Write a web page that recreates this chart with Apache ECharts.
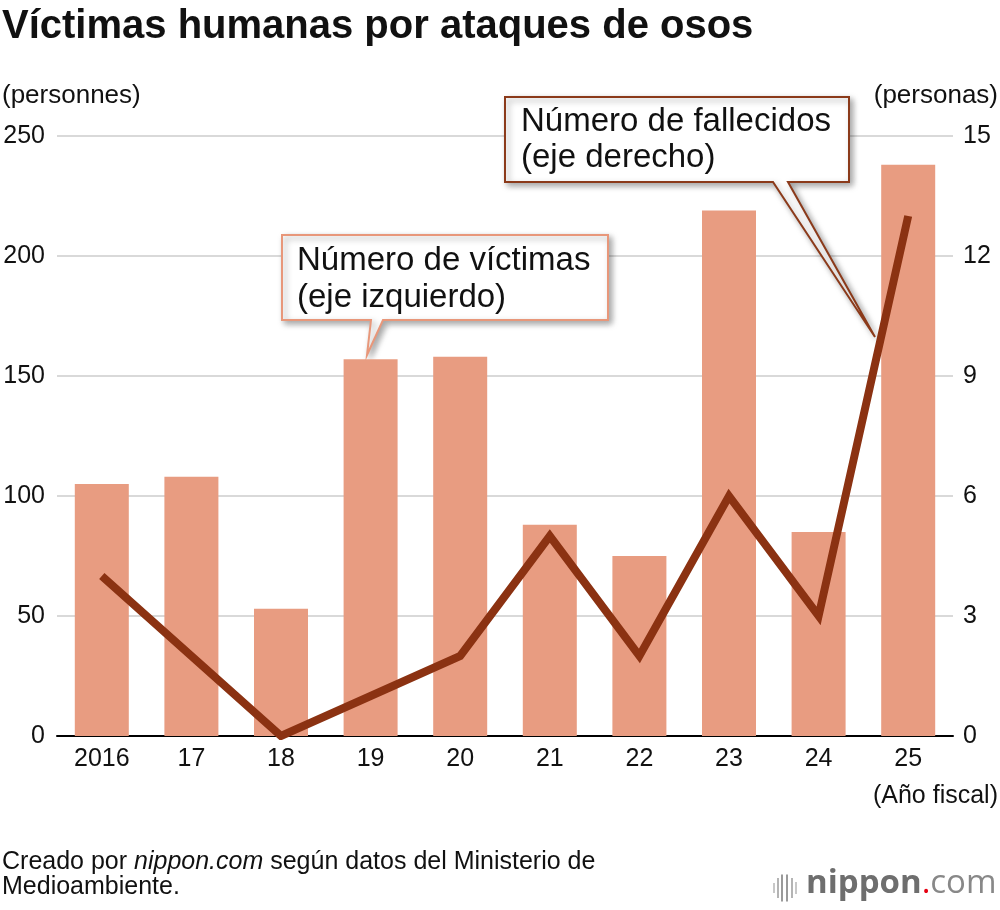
<!DOCTYPE html>
<html>
<head>
<meta charset="utf-8">
<script src="https://cdn.jsdelivr.net/npm/echarts@6/dist/echarts.min.js"></script>
<style>
html, body { margin: 0; padding: 0; background: #fff; }
#chart-container { width: 1000px; height: 910px; }
</style>
</head>
<body>
<div id="chart-container"></div>
<script>
const years = ['2016', '17', '18', '19', '20', '21', '22', '23', '24', '25']
const victims = [105, 108, 53, 157, 158, 88, 75, 219, 85, 238]
const deaths = [4, 2, 0, 1, 2, 5, 2, 6, 3, 13]

const font = '"Liberation Sans", Arial, Helvetica, sans-serif'
const barColor = '#E89C81'
const lineColor = '#8B3212'

const myChart = echarts.init(document.getElementById('chart-container'))

// plain text helper for the graphic layer
const txt = (text, x, y, size, opts = {}) => ({
    type: 'text', x: x, y: y, z: opts.z || 1,
    style: {
        text: text,
        font: (opts.bold ? 'bold ' : '') + size + 'px ' + font,
        fill: '#111',
        align: opts.align || 'left',
        verticalAlign: 'middle'
    }
})

// little grey bars of the logo
const logoBars = [
    [773, 10, '#c8c8c8'], [777, 20, '#b4b4b4'], [781, 27, '#9a9a9a'],
    [786, 27, '#9a9a9a'], [791, 20, '#b4b4b4'], [795, 12, '#c8c8c8']
].map(([x, h, c]) => ({
    type: 'rect', shape: { x: x, y: 888 - h / 2, width: 2, height: h },
    style: { fill: c }
}))

const option = {
    animation: false,
    textStyle: { fontFamily: font },
    grid: { left: 57, right: 47, top: 136, bottom: 174 },
    xAxis: {
        type: 'category',
        data: years,
        axisLine: { lineStyle: { color: '#000', width: 2 } },
        axisTick: { show: false },
        axisLabel: { color: '#111', fontSize: 25, margin: 11 }
    },
    yAxis: [
        {
            type: 'value', min: 0, max: 250, interval: 50,
            axisLine: { show: false }, axisTick: { show: false },
            axisLabel: { color: '#111', fontSize: 25, margin: 12 },
            splitLine: { lineStyle: { color: '#cccccc', width: 1.5 } }
        },
        {
            type: 'value', min: 0, max: 15, interval: 3,
            axisLine: { show: false }, axisTick: { show: false },
            axisLabel: { color: '#111', fontSize: 25, margin: 10 },
            splitLine: { show: false }
        }
    ],
    series: [
        {
            name: 'víctimas',
            type: 'bar',
            data: victims,
            barWidth: 54,
            itemStyle: { color: barColor },
            z: 2
        },
        {
            name: 'fallecidos',
            type: 'line',
            yAxisIndex: 1,
            data: deaths,
            symbol: 'none',
            lineStyle: { color: lineColor, width: 8, join: 'miter', cap: 'butt' },
            z: 5
        }
    ],
    graphic: [
        txt('Víctimas humanas por ataques de osos', 2, 27, 40, { bold: true }),
        txt('(personnes)', 2, 96, 26),
        txt('(personas)', 998, 96, 26, { align: 'right' }),
        txt('(Año fiscal)', 998, 796, 25, { align: 'right' }),
        {
            type: 'polygon', z: 1,
            shape: { points: [[282, 235], [608, 235], [608, 320], [383, 320], [367, 355], [371, 320], [282, 320]] },
            style: {
                fill: '#fff', stroke: '#E8977A', lineWidth: 2,
                shadowBlur: 6, shadowOffsetX: 3, shadowOffsetY: 3, shadowColor: 'rgba(0,0,0,0.35)'
            }
        },
        txt('Número de víctimas', 297, 261, 33),
        txt('(eje izquierdo)', 297, 298, 33),
        {
            type: 'polygon', z: 1,
            shape: { points: [[505, 97], [849, 97], [849, 182], [788, 182], [875, 337], [773, 182], [505, 182]] },
            style: {
                fill: '#fff', stroke: '#8B3A1A', lineWidth: 2,
                shadowBlur: 6, shadowOffsetX: 3, shadowOffsetY: 3, shadowColor: 'rgba(0,0,0,0.35)'
            }
        },
        txt('Número de fallecidos', 521, 122, 33),
        txt('(eje derecho)', 521, 158, 33),
        {
            type: 'text', x: 2, y: 862,
            style: {
                text: '{n|Creado por }{i|nippon.com}{n| según datos del Ministerio de}',
                verticalAlign: 'middle',
                rich: {
                    n: { fontSize: 25, fontFamily: font, fill: '#111' },
                    i: { fontSize: 25, fontFamily: font, fontStyle: 'italic', fill: '#111' }
                }
            }
        },
        txt('Medioambiente.', 2, 887, 25),
        ...logoBars,
        {
            type: 'text', x: 806, y: 884,
            style: {
                text: '{b|nippon}{r|.}{c|com}',
                verticalAlign: 'middle',
                rich: {
                    b: { fontSize: 33, fontFamily: '"Open Sans", sans-serif', fontWeight: 'bold', fill: '#6e6e6e' },
                    r: { fontSize: 33, fontFamily: '"Open Sans", sans-serif', fill: '#e60012' },
                    c: { fontSize: 33, fontFamily: '"Open Sans", sans-serif', fill: '#888888' }
                }
            }
        }
    ]
}

option && myChart.setOption(option)
</script>
</body>
</html>
